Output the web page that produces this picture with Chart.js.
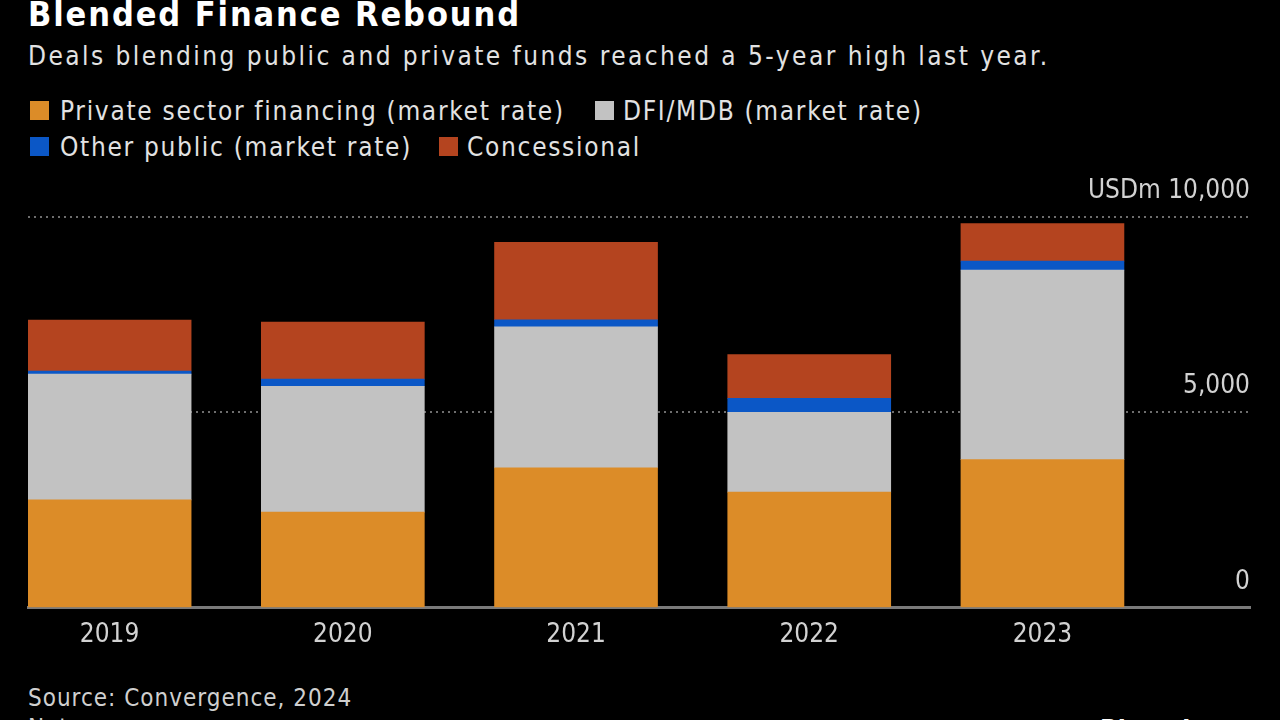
<!DOCTYPE html>
<html>
<head>
<meta charset="utf-8">
<script src="https://cdn.jsdelivr.net/npm/chart.js@4.4.1/dist/chart.umd.min.js"></script>
<style>
  body { margin: 0; background: #000; width: 1280px; height: 720px; overflow: hidden; position: relative;
         font-family: "DejaVu Sans Condensed", "DejaVu Sans", sans-serif; }
  .txt { position: absolute; white-space: nowrap; line-height: 1; }
  #title { left: 28px; top: -3px; font-size: 34px; font-weight: bold; color: #fff; letter-spacing: 1.9px; }
  #subtitle { left: 28px; top: 43px; font-size: 26px; color: #e2e2e2; letter-spacing: 2.45px; }
  .leg { position: absolute; line-height: 1; font-size: 26px; color: #e2e2e2; white-space: nowrap; letter-spacing: 1.7px; }
  .sw { position: absolute; width: 19px; height: 19px; }
  #source { left: 28px; top: 686px; font-size: 24px; color: #cfcfcf; letter-spacing: 1px; }
  #note { left: 28px; top: 716px; font-size: 24px; color: #cfcfcf; letter-spacing: 1px; }
  #brand { left: 1100px; top: 717px; font-size: 26px; font-weight: bold; color: #fff; }
  #wrap { position: absolute; left: 0; top: 161px; width: 1280px; height: 502px; }
</style>
</head>
<body>
<div class="txt" id="title">Blended Finance Rebound</div>
<div class="txt" id="subtitle">Deals blending public and private funds reached a 5-year high last year.</div>

<div class="sw" style="left:30px;top:101px;background:#dc8c28"></div>
<div class="leg" style="left:60px;top:98px">Private sector financing (market rate)</div>
<div class="sw" style="left:595px;top:101px;background:#c2c2c2"></div>
<div class="leg" style="left:623px;top:98px">DFI/MDB (market rate)</div>
<div class="sw" style="left:30px;top:137px;background:#0b57c6"></div>
<div class="leg" style="left:60px;top:134px">Other public (market rate)</div>
<div class="sw" style="left:439px;top:137px;background:#b4441f"></div>
<div class="leg" style="left:467px;top:134px">Concessional</div>

<div id="wrap"><canvas id="myChart"></canvas></div>

<div class="txt" id="source">Source: Convergence, 2024</div>
<div class="txt" id="note">Note:</div>
<div class="txt" id="brand">Bloomberg</div>

<script>
var years = ["2019", "2020", "2021", "2022", "2023"];
var privateSector = [2760, 2450, 3580, 2960, 3790];
var dfiMdb = [3220, 3220, 3610, 2040, 4850];
var otherPublic = [80, 180, 180, 360, 230];
var concessional = [1300, 1460, 1980, 1120, 960];
var yTicks = [0, 5000, 10000];

var font = { family: "'DejaVu Sans Condensed', 'DejaVu Sans', sans-serif", size: 26 };

function points(vals) {
  return vals.map(function (v, i) { return { x: i, y: v }; });
}

var ctx = document.getElementById("myChart").getContext("2d");

var myChart = new Chart(ctx, {
  type: "bar",
  data: {
    datasets: [
      { label: "Private sector financing (market rate)", data: points(privateSector), backgroundColor: "#dc8c28" },
      { label: "DFI/MDB (market rate)", data: points(dfiMdb), backgroundColor: "#c2c2c2" },
      { label: "Other public (market rate)", data: points(otherPublic), backgroundColor: "#0b57c6" },
      { label: "Concessional", data: points(concessional), backgroundColor: "#b4441f" },
    ],
  },
  options: {
    responsive: true,
    maintainAspectRatio: false,
    animation: false,
    barThickness: 163,
    borderWidth: 0,
    layout: { padding: { left: 28, right: 30, top: 56, bottom: 0 } },
    scales: {
      x: {
        type: "linear",
        stacked: true,
        offset: false,
        min: -0.35,
        max: 4.89,
        afterBuildTicks: function (scale) {
          scale.ticks = years.map(function (y, i) { return { value: i }; });
        },
        grid: { display: false, drawTicks: false, offset: false },
        border: { display: true, color: "#7a7a7a", width: 3 },
        ticks: {
          color: "#d2d2d2",
          font: font,
          padding: 12,
          maxRotation: 0,
          callback: function (v) { return years[v]; },
        },
      },
      y: {
        stacked: true,
        position: "right",
        min: 0,
        max: 10000,
        afterBuildTicks: function (scale) {
          scale.ticks = yTicks.map(function (v) { return { value: v }; });
        },
        grid: {
          drawTicks: false,
          lineWidth: 2,
          color: function (c) { return c.tick && c.tick.value === 0 ? "rgba(0,0,0,0)" : "#6e6e6e"; },
        },
        border: { display: false, dash: [2, 4] },
        ticks: {
          mirror: true,
          padding: 0,
          labelOffset: -26,
          color: "#d2d2d2",
          font: font,
          callback: function (v) { return v === 10000 ? "USDm 10,000" : v.toLocaleString("en-US"); },
        },
      },
    },
    plugins: {
      legend: { display: false },
      tooltip: { enabled: false },
    },
  },
});
</script>
</body>
</html>
